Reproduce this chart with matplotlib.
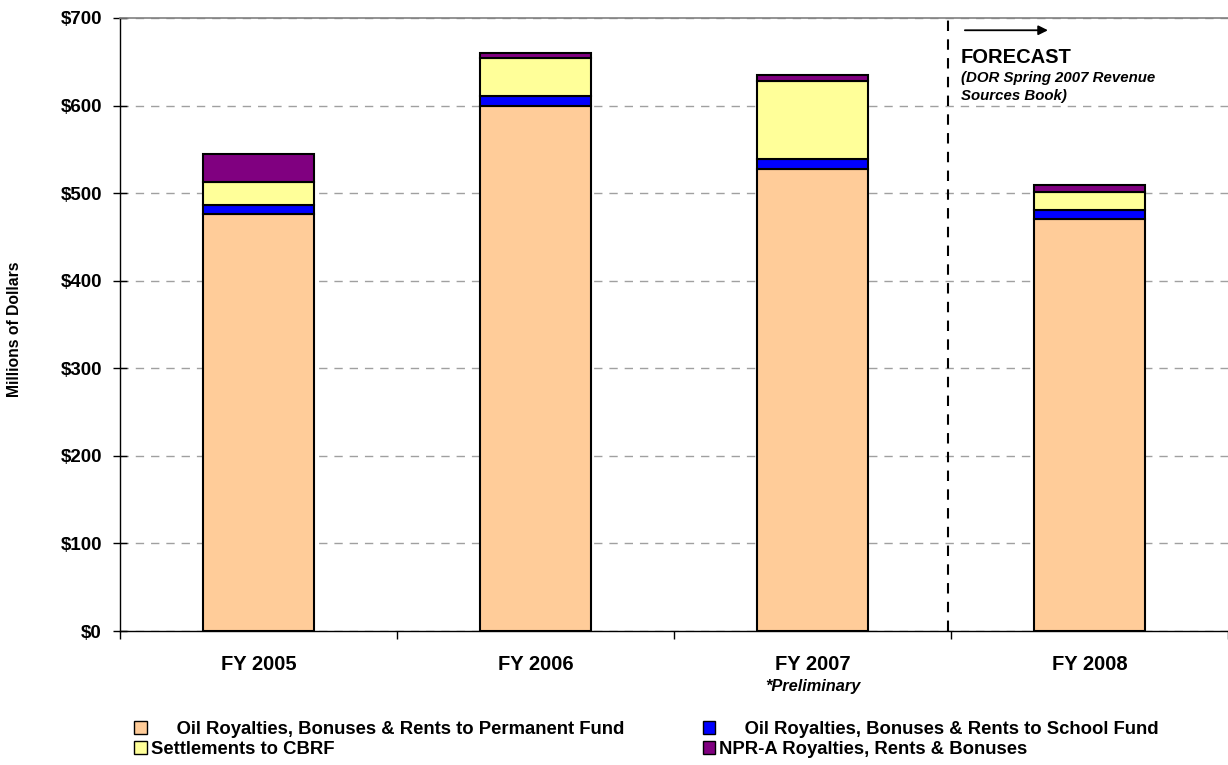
import matplotlib
matplotlib.use("Agg")
import matplotlib.pyplot as plt
import matplotlib.transforms as mtransforms
from matplotlib.patches import Patch
import numpy as np

plt.rcParams['font.family'] = ['Liberation Sans', 'DejaVu Sans']

categories = ["FY 2005", "FY 2006", "FY 2007", "FY 2008"]
perm_fund = [476, 599, 528, 471]
school_fund = [10, 12, 11, 10]
cbrf = [27, 43.5, 89, 20]
npra = [32, 5, 7, 8]
series_labels = [
    "     Oil Royalties, Bonuses & Rents to Permanent Fund",
    "     Oil Royalties, Bonuses & Rents to School Fund",
    "Settlements to CBRF",
    "NPR-A Royalties, Rents & Bonuses",
]
series_colors = ["#FFCC99", "#0000FF", "#FFFF99", "#800080"]
yticks = [0, 100, 200, 300, 400, 500, 600, 700]
ytick_labels = ["$0", "$100", "$200", "$300", "$400", "$500", "$600", "$700"]

fig = plt.figure(figsize=(12.28, 7.65), dpi=100)
ax = fig.add_axes([120/1228, 1-631/765, 1-120/1228, (631-18)/765])

x = np.arange(len(categories))
width = 0.40
series = [perm_fund, school_fund, cbrf, npra]
bottom = np.zeros(len(categories))
handles = []
for vals, col, lab in zip(series, series_colors, series_labels):
    ax.bar(x, vals, width, bottom=bottom, color=col, edgecolor="black", linewidth=1.5, zorder=3)
    bottom += np.array(vals)
    handles.append(Patch(facecolor=col, edgecolor="black", linewidth=1.0, label=lab))

ax.set_xlim(-0.5, 3.5)
ax.set_ylim(0, 700)
ax.set_yticks(yticks)
ax.set_yticklabels(ytick_labels, fontsize=13.5, fontweight="bold")
ax.tick_params(axis="y", direction="inout", length=10, width=1, pad=8)
ax.yaxis.grid(True, color="#A0A0A0", linestyle=(0, (6, 5)), linewidth=1, zorder=0)

ax.set_xticks(x)
ax.set_xticklabels(categories, fontsize=14.5, fontweight="bold")
ax.tick_params(axis="x", which="major", length=0, pad=17)
ax.set_xticks(np.arange(-0.5, 4.0, 1.0), minor=True)
ax.tick_params(axis="x", which="minor", direction="out", length=6, width=1)

for s in ["left", "bottom"]:
    ax.spines[s].set_color("black")
    ax.spines[s].set_linewidth(1)
ax.spines["right"].set_visible(False)
ax.spines["top"].set_color("#808080")
ax.spines["top"].set_linewidth(1.2)

# forecast divider and annotation
ax.axvline(2.49, color="black", linestyle=(0, (5, 4)), linewidth=1.5, zorder=4)
ax.annotate("", xy=(2.86, 686), xytext=(2.54, 686),
            arrowprops=dict(arrowstyle="-|>", color="black", lw=1.3, mutation_scale=14))
ax.text(2.535, 655, "FORECAST", fontsize=14.5, fontweight="bold", va="center", ha="left")
ax.text(2.535, 631, "(DOR Spring 2007 Revenue", fontsize=10.8, fontweight="bold",
        fontstyle="italic", va="center", ha="left")
ax.text(2.535, 611, "Sources Book)", fontsize=10.8, fontweight="bold",
        fontstyle="italic", va="center", ha="left")

trans = mtransforms.blended_transform_factory(ax.transData, fig.transFigure)
ax.text(2, 1-686/765, "*Preliminary", transform=trans, fontsize=11.8, fontweight="bold",
        fontstyle="italic", ha="center", va="center")

fig.text(15/1228, 1-329/765, "Millions of Dollars", rotation=90, fontsize=11.3,
         fontweight="bold", ha="center", va="center")

leg_handles = [handles[0], handles[2], handles[1], handles[3]]
leg = fig.legend(handles=leg_handles, loc="upper left", ncol=2,
                 bbox_to_anchor=(134/1228, 1-721/765), frameon=False,
                 borderpad=0, borderaxespad=0, handlelength=0.7, handleheight=0.7,
                 handletextpad=0.2, columnspacing=4.25, labelspacing=0.15,
                 prop={"weight": "bold", "size": 13.3})

fig.savefig("out.png", dpi=100)
